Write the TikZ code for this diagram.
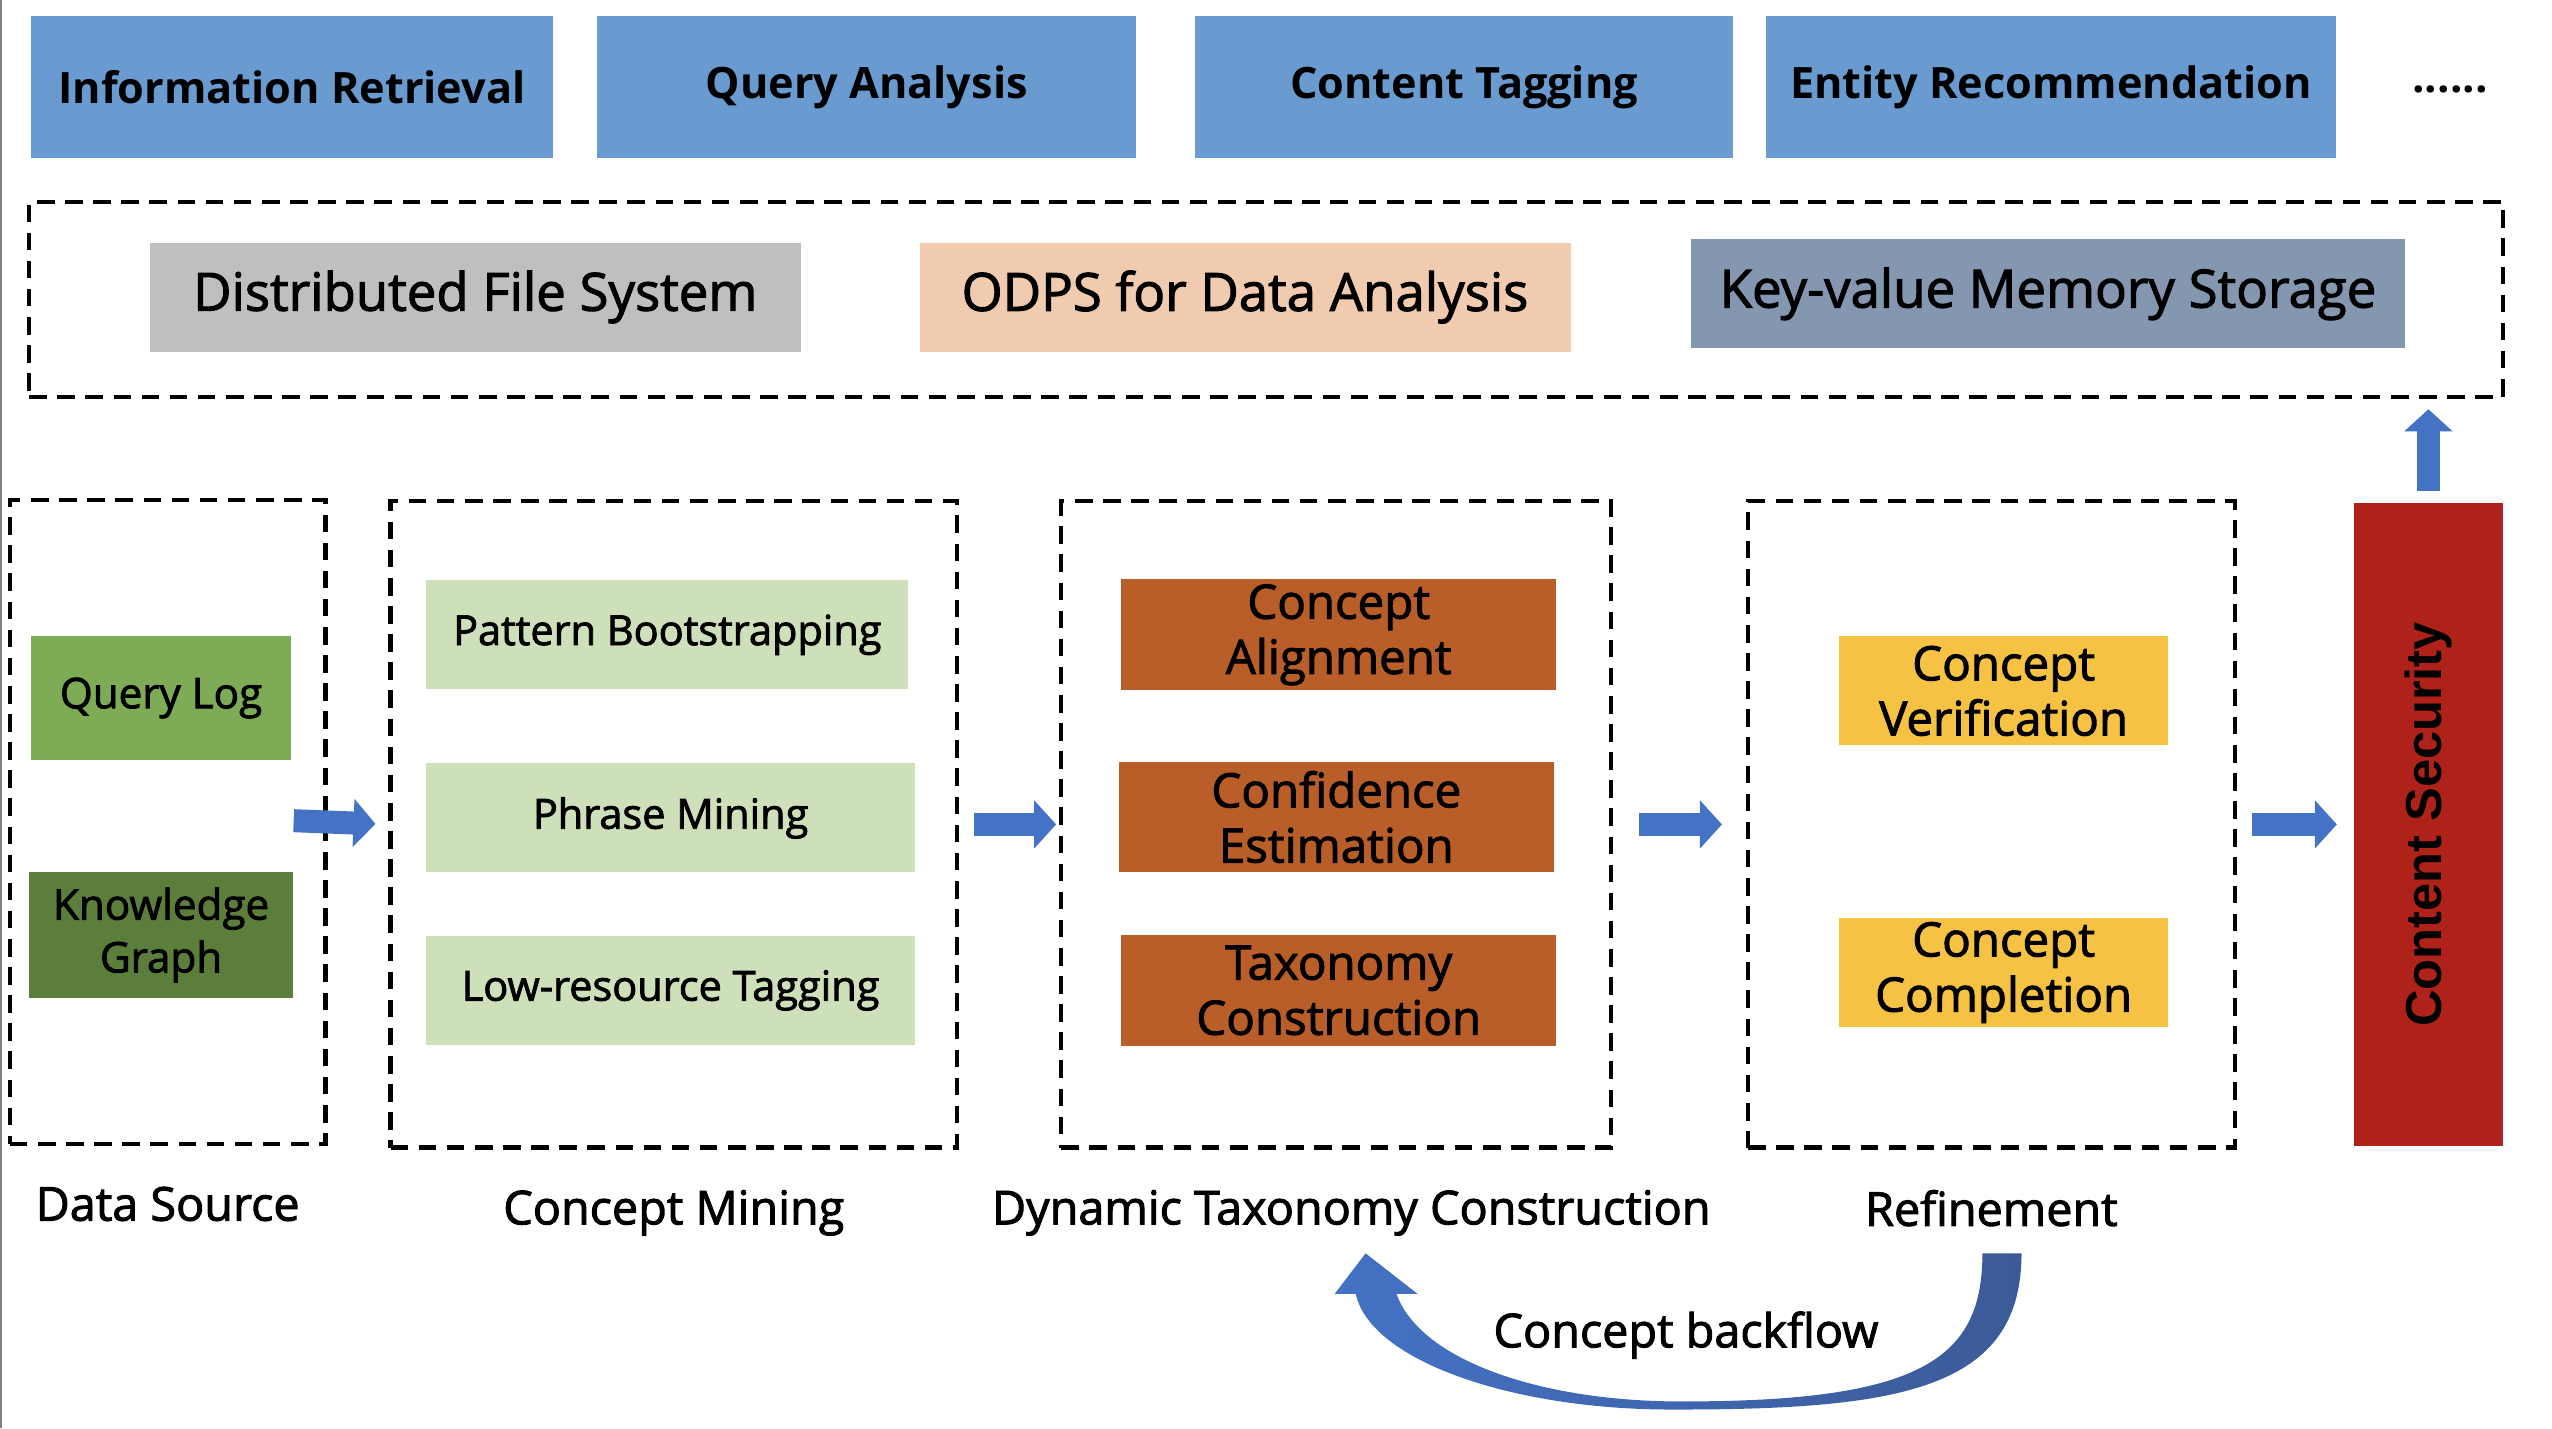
\documentclass[tikz,border=0pt]{standalone}
\usepackage{fontspec}
\setmainfont{Open Sans}
\newfontfamily\medfont{Open Sans}[FakeBold=2]
\newfontfamily\secfont{Liberation Sans}
\usetikzlibrary{arrows.meta, positioning}

\definecolor{appblue}{HTML}{699BD0}
\definecolor{dfsgray}{HTML}{BFBFBF}
\definecolor{odpspeach}{HTML}{F1CBB0}
\definecolor{kvgray}{HTML}{8497B0}
\definecolor{qlgreen}{HTML}{7EAB55}
\definecolor{kggreen}{HTML}{5B7F3B}
\definecolor{minegreen}{HTML}{CDE0B9}
\definecolor{taxoorange}{HTML}{B95E29}
\definecolor{refyellow}{HTML}{F6C244}
\definecolor{csred}{HTML}{AE2219}
\definecolor{flowblue}{HTML}{4472C4}
\definecolor{backdark}{HTML}{3B5A98}

\begin{document}
\begin{tikzpicture}[>=Latex,
	app/.style={fill=appblue, minimum height=1.416cm, font=\fontsize{12.3}{15}\selectfont\bfseries},
	store/.style={minimum height=1.09cm, font=\medfont\fontsize{15}{18}\selectfont},
	group/.style={draw, line width=1.2pt, dash pattern=on 5pt off 3pt, minimum height=6.462cm},
	sub/.style={minimum height=1.107cm, inner sep=1pt, align=center, font=\medfont\fontsize{12}{15}\selectfont},
	mine/.style={sub, fill=minegreen, minimum height=1.09cm, font=\medfont\fontsize{11.8}{14}\selectfont},
	taxo/.style={sub, fill=taxoorange, minimum width=4.346cm, font=\medfont\fontsize{13.5}{15.7}\selectfont},
	refine/.style={sub, fill=refyellow, minimum width=3.288cm, minimum height=1.09cm, font=\medfont\fontsize{13.5}{15.7}\selectfont},
	caption/.style={font=\medfont\fontsize{13.3}{16}\selectfont},
	flow/.style={flowblue, line width=0.23cm, -{Triangle[width=0.47cm, length=0.22cm]}}]
	\useasboundingbox (0,0) rectangle (25.52,-14.28);
	\draw[gray, line width=0.4pt] (0.01,0) -- (0.01,-14.28);

	% applications
	\node[app, minimum width=5.225cm] (ir) at (2.92,-0.871) {Information Retrieval};
	\node[app, minimum width=5.387cm] (qa) at (8.667,-0.871) {Query Analysis};
	\node[app, minimum width=5.387cm] (ct) at (14.64,-0.871) {Content Tagging};
	\node[app, minimum width=5.697cm] (er) at (20.51,-0.871) {Entity Recommendation};
	\node[anchor=base, font=\fontsize{12.5}{15}\selectfont\bfseries] (more) at (24.50,-0.92) {......};

	% storage layer
	\node[group, minimum width=24.737cm, minimum height=1.953cm] (storage) at (12.66,-2.995) {};
	\node[store, fill=dfsgray, minimum width=6.51cm] (dfs) at (4.753,-2.97) {Distributed File System};
	\node[store, fill=odpspeach, minimum width=6.51cm] (odps) at (12.45,-2.97) {ODPS for Data Analysis};
	\node[store, fill=kvgray, minimum width=7.145cm] (kv) at (20.48,-2.938) {Key-value Memory Storage};

	% data source
	\node[group, minimum width=3.157cm, minimum height=6.445cm] (ds) at (1.677,-8.22) {};
	\node[sub, fill=qlgreen, minimum width=2.604cm, minimum height=1.237cm] (ql) at (1.611,-6.98) {Query Log};
	\node[sub, fill=kggreen, minimum width=2.637cm, minimum height=1.253cm] (kg) at (1.611,-9.35) {Knowledge\\Graph};

	% concept mining
	\node[group, minimum width=5.664cm] (cm) at (6.738,-8.244) {};
	\node[mine, minimum width=4.818cm] (pb) at (6.673,-6.348) {Pattern Bootstrapping};
	\node[mine, minimum width=4.883cm] (pm) at (6.706,-8.179) {Phrase Mining};
	\node[mine, minimum width=4.883cm] (lt) at (6.706,-9.904) {Low-resource Tagging};

	% taxonomy
	\node[group, minimum width=5.501cm] (dtc) at (13.363,-8.244) {};
	\node[taxo] (ca) at (13.387,-6.348) {Concept\\Alignment};
	\node[taxo] (ce) at (13.363,-8.17) {Confidence\\Estimation};
	\node[taxo] (tc) at (13.387,-9.904) {Taxonomy\\Construction};

	% refinement
	\node[group, minimum width=4.867cm] (ref) at (19.914,-8.244) {};
	\node[refine] (cv) at (20.036,-6.909) {Concept\\Verification};
	\node[refine] (cc) at (20.036,-9.725) {Concept\\Completion};

	\node[fill=csred, minimum width=1.497cm, minimum height=6.429cm, font=\secfont\bfseries\fontsize{14.4}{16}\selectfont] (cs) at (24.284,-8.244) {\rotatebox{90}{Content Security}};

	% captions
	\node[caption, below=0.28cm of ds] (dslabel) {Data Source};
	\node[caption, below=0.28cm of cm] (cmlabel) {Concept Mining};
	\node[caption, below=0.28cm of dtc, xshift=1.5mm] (dtclabel) {Dynamic Taxonomy Construction};
	\node[caption, below=0.28cm of ref] (reflabel) {Refinement};

	% flow
	\draw[flow, shorten <=-3.4mm, shorten >=1.3mm] (ds.east) -- (cm.west);
	\draw[flow, shorten <=1.5mm, shorten >=0.3mm] (cm.east) -- (dtc.west);
	\draw[flow, shorten <=2.6mm, shorten >=2.4mm] (dtc.east) -- (ref.west);
	\draw[flow, shorten <=1.5mm, shorten >=1.6mm] (ref.east) -- (cs.west);
	\draw[flow, shorten <=1.1mm, shorten >=1mm] (cs.north) -- (cs.north |- storage.south);

	% backflow
	\shade[left color=flowblue, right color=backdark]
		(20.215,-12.533) .. controls (20.215,-13.9) and (19.0,-14.1) .. (16.683,-14.095)
		.. controls (15.1,-14.09) and (13.7,-13.6) .. (13.558,-12.939)
		-- (13.346,-12.939) -- (13.656,-12.533) -- (14.176,-12.939) -- (13.965,-12.939)
		.. controls (14.2,-13.6) and (15.4,-14.01) .. (16.781,-14.014)
		.. controls (19.2,-14.02) and (19.824,-13.6) .. (19.824,-12.533) -- cycle;
	\node[caption] (backflow) at (16.86,-13.35) {Concept backflow};
\end{tikzpicture}
\end{document}
